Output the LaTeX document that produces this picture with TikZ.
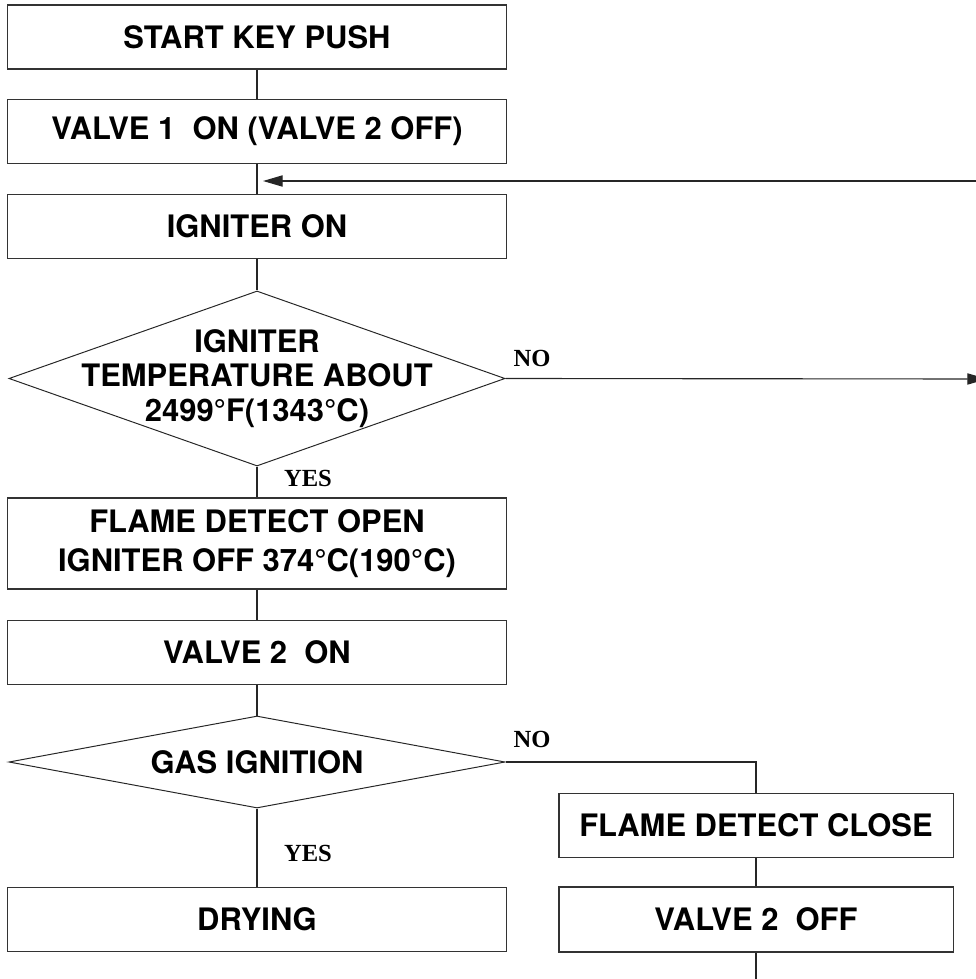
\documentclass[tikz,border=0pt]{standalone}
\usepackage{fontspec}
\setmainfont{TeX Gyre Heros}
\newfontfamily\ynfont{Liberation Serif}
\usetikzlibrary{arrows.meta,positioning,shapes.geometric}

\begin{document}
\begin{tikzpicture}[
  x=0.025cm, y=-0.025cm,
  stepbox/.style={draw=black!80, line width=0.8pt, rectangle,
    minimum width=12.45cm, minimum height=1.6cm, inner sep=0pt,
    align=center, font=\fontsize{22}{28}\selectfont\bfseries},
  decision/.style={draw=black!85, line width=0.7pt, diamond,
    inner sep=0pt, minimum width=12.4cm},
  dtext/.style={align=center, font=\fontsize{22}{24.5}\selectfont\bfseries},
  yn/.style={font=\fontsize{17.5}{19}\selectfont\ynfont\bfseries},
  link/.style={line width=0.8pt, black!85},
  >={Triangle[length=14pt, width=8pt]}
]
\useasboundingbox (0,0) rectangle (975,979);

% Main column
\node[stepbox] (start) at (257,37) {START KEY PUSH};
\node[stepbox] (valveA) at (257,131.5) {VALVE 1\ \ ON (VALVE 2 OFF)};
\node[stepbox] (ignon) at (257,226.5) {IGNITER ON};
\node[decision, minimum height=4.375cm,
  label={[dtext]center:IGNITER\\TEMPERATURE ABOUT\\2499°F(1343°C)}]
  (igtemp) at (257,378.5) {};
\node[stepbox, minimum height=2.275cm] (fdopen) at (257,543.5)
  {FLAME DETECT OPEN\\IGNITER OFF 374°C(190°C)};
\node[stepbox] (valveB) at (257,652.5) {VALVE 2\ \ ON};
\node[decision, minimum height=2.3cm,
  label={[dtext]center:GAS IGNITION}] (gasig) at (257,762) {};
\node[stepbox] (drying) at (257,919.5) {DRYING};

% Failure branch
\node[stepbox, minimum width=9.85cm] (fdclose) at (756,825.5) {FLAME DETECT CLOSE};
\node[stepbox, minimum width=9.85cm, minimum height=1.625cm] (valveoff) at (756,919.5) {VALVE 2\ \ OFF};

% Free ends
\coordinate (retin) at (985,181);
\coordinate (retout) at (263,181);
\coordinate (noout) at (987,379);
\coordinate (offout) at (756,985);

% Connectors
\draw[link] (start) -- (valveA);
\draw[link] (valveA) -- (ignon);
\draw[link] (ignon) -- (igtemp.north);
\draw[link] (igtemp.south) -- (fdopen);
\draw[link] (fdopen) -- (valveB);
\draw[link] (valveB) -- (gasig.north);
\draw[link] (gasig.south) -- (drying);
\draw[link] (gasig.east) -| (fdclose.north);
\draw[link] (fdclose) -- (valveoff);
\draw[link] (valveoff) -- (offout);
\draw[link, ->] (retin) -- (retout);
\draw[link, ->] (igtemp.east) -- (noout);

% Labels
\node[yn] (yes1) at (308,478) {YES};
\node[yn] (no1) at (532,358) {NO};
\node[yn] (yes2) at (308,853) {YES};
\node[yn] (no2) at (532,739) {NO};

\end{tikzpicture}
\end{document}
